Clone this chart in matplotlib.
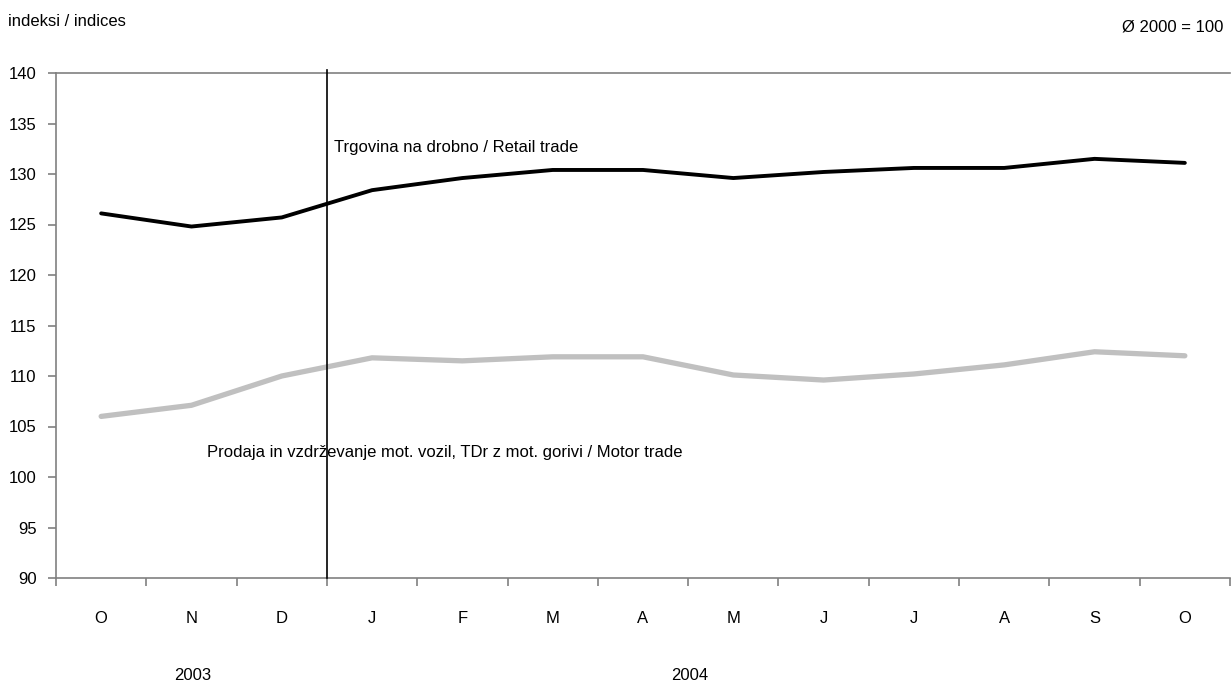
import numpy as np
import matplotlib.pyplot as plt

plt.rcParams['font.family'] = ['Liberation Sans', 'DejaVu Sans']

# month labels, Oct 2003 - Oct 2004
months = ['O', 'N', 'D', 'J', 'F', 'M', 'A', 'M', 'J', 'J', 'A', 'S', 'O']
retail = [126.1, 124.8, 125.7, 128.4, 129.6, 130.4, 130.4, 129.6, 130.2, 130.6, 130.6, 131.5, 131.1]
motor = [106.0, 107.1, 110.0, 111.8, 111.5, 111.9, 111.9, 110.1, 109.6, 110.2, 111.1, 112.4, 112.0]
y_ticks = [90, 95, 100, 105, 110, 115, 120, 125, 130, 135, 140]

fs = 12

fig = plt.figure(figsize=(12.31, 6.84), dpi=100)
W, H = 1231, 684
ax = fig.add_axes([56 / W, 1 - 578 / H, (1230 - 56) / W, (578 - 73) / H])

x = np.arange(len(months))
ax.plot(x, motor, color='#c0c0c0', lw=3.8, solid_capstyle='round', zorder=2)
ax.plot(x, retail, color='black', lw=2.8, solid_capstyle='round', zorder=3)

# year separator
ax.axvline(2.5, ymin=0.0, ymax=1.006, color='black', lw=1.2, clip_on=False, zorder=4)

ax.set_xlim(-0.5, len(months) - 0.5)
ax.set_ylim(90, 140)
ax.set_yticks(y_ticks)
ax.set_xticks(np.arange(-0.5, len(months), 1))
ax.set_xticklabels([])
ax.set_xticks(x, minor=True)
ax.set_xticklabels(months, minor=True)
ax.tick_params(axis='x', which='minor', length=0, pad=24, labelsize=fs)
ax.tick_params(axis='x', which='major', length=6, color='#808080', width=1.2, direction='out')
ax.tick_params(axis='y', length=6, color='#808080', width=1.2, direction='out', labelsize=fs, pad=8)

ax.spines['right'].set_visible(False)
for s in ['left', 'bottom', 'top']:
    ax.spines[s].set_color('#808080')
    ax.spines[s].set_linewidth(1.2)

ax.text(2.58, 132.6, 'Trgovina na drobno / Retail trade', fontsize=fs, va='center')
ax.text(1.17, 102.4, 'Prodaja in vzdrževanje mot. vozil, TDr z mot. gorivi / Motor trade',
        fontsize=fs, va='center')

fig.text(8 / W, 1 - 22 / H, 'indeksi / indices', fontsize=fs, va='center')
fig.text(1223 / W, 1 - 27 / H, 'Ø 2000 = 100', fontsize=fs, va='center', ha='right')
fig.text(193 / W, 1 - 676 / H, '2003', fontsize=fs, va='center', ha='center')
fig.text(690 / W, 1 - 676 / H, '2004', fontsize=fs, va='center', ha='center')

fig.savefig('out.png', dpi=100)
